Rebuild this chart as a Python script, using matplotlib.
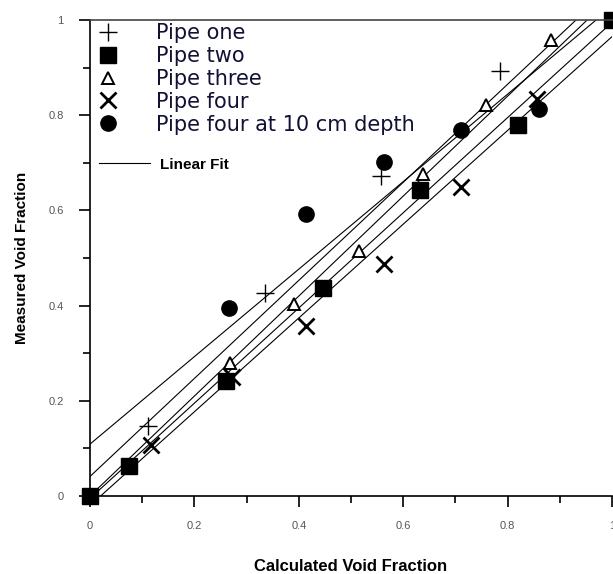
import matplotlib
matplotlib.use("Agg")
from matplotlib import pyplot as plt
from matplotlib.lines import Line2D
from matplotlib.ticker import MultipleLocator
import numpy as np

plt.rcParams['font.family'] = ['Liberation Sans', 'DejaVu Sans']

# data
pipe_one_x = [0.112, 0.335, 0.558, 0.785]
pipe_one_y = [0.148, 0.426, 0.673, 0.892]

pipe_two_x = [0.0, 0.074, 0.260, 0.446, 0.633, 0.820, 1.0]
pipe_two_y = [0.0, 0.063, 0.242, 0.436, 0.642, 0.780, 1.0]

pipe_three_x = [0.268, 0.391, 0.516, 0.638, 0.759, 0.884]
pipe_three_y = [0.280, 0.403, 0.515, 0.677, 0.822, 0.957]

pipe_four_x = [0.117, 0.272, 0.413, 0.563, 0.711, 0.857]
pipe_four_y = [0.108, 0.250, 0.357, 0.487, 0.649, 0.835]

depth_x = [0.266, 0.413, 0.563, 0.711, 0.860]
depth_y = [0.394, 0.593, 0.701, 0.768, 0.812]

# linear fits (slope, intercept) as drawn
fit_slopes = [0.919, 1.03, 1.05, 1.0, 0.985]
fit_intercepts = [0.109, 0.041, 0.0, -0.005, -0.02]

fig = plt.figure(figsize=(6.13, 5.74), dpi=100)
ax = fig.add_axes([90 / 613, 78 / 574, 522 / 613, 476 / 574])

xs = np.array([0.0, 1.0])
for m, b in zip(fit_slopes, fit_intercepts):
    ax.plot(xs, m * xs + b, color="k", linewidth=0.8)

ax.plot(pipe_one_x, pipe_one_y, linestyle="none", marker="+", markersize=13,
        markeredgewidth=1.0, color="k", clip_on=False, label="Pipe one")
ax.plot(pipe_two_x, pipe_two_y, linestyle="none", marker="s", markersize=11,
        color="k", clip_on=False, label="Pipe two")
ax.plot(pipe_three_x, pipe_three_y, linestyle="none", marker="^", markersize=9,
        markerfacecolor="white", markeredgecolor="k", markeredgewidth=1.4,
        clip_on=False, label="Pipe three")
ax.plot(pipe_four_x, pipe_four_y, linestyle="none", marker="x", markersize=11,
        markeredgewidth=2.0, color="k", clip_on=False, label="Pipe four")
ax.plot(depth_x, depth_y, linestyle="none", marker="o", markersize=11,
        color="k", clip_on=False, label="Pipe four at 10 cm depth")

ax.set_xlim(0, 1)
ax.set_ylim(0, 1)

ax.spines["right"].set_visible(False)
ax.spines["top"].set_color("#444444")
ax.spines["top"].set_linewidth(1.2)
for s in ["left", "bottom"]:
    ax.spines[s].set_linewidth(1.2)

ax.xaxis.set_major_locator(MultipleLocator(0.2))
ax.xaxis.set_minor_locator(MultipleLocator(0.1))
ax.yaxis.set_major_locator(MultipleLocator(0.2))
ax.yaxis.set_minor_locator(MultipleLocator(0.1))


def fmt(v, p):
    v = round(v, 2)
    if v == 0:
        return "0"
    if v == 1:
        return "1"
    return f"{v:.1f}"


ax.xaxis.set_major_formatter(plt.FuncFormatter(fmt))
ax.yaxis.set_major_formatter(plt.FuncFormatter(fmt))
ax.tick_params(which="major", direction="out", length=8, width=1.2,
               labelsize=8, labelcolor="#555555")
ax.tick_params(which="minor", direction="out", length=5, width=1.2)
ax.tick_params(axis="x", pad=10)
ax.tick_params(axis="y", pad=11)

ax.set_xlabel("Calculated Void Fraction", fontsize=12, fontweight="bold", labelpad=20)
ax.set_ylabel("Measured Void Fraction", fontsize=11, fontweight="bold", labelpad=14)

leg = ax.legend(loc="upper left", bbox_to_anchor=(-0.022, 1.02), frameon=False,
                prop={"family": "DejaVu Sans", "size": 15},
                handlelength=1.6, handletextpad=1.5,
                labelspacing=0.14, borderaxespad=0.2)
for t in leg.get_texts():
    t.set_color("#111133")
ax.add_artist(leg)

fit_handle = Line2D([], [], color="k", linewidth=0.8)
ax.legend([fit_handle], ["Linear Fit"], loc="upper left",
          bbox_to_anchor=(-0.01, 0.74), frameon=False,
          prop={"size": 11, "weight": "bold"}, handlelength=3.4,
          handletextpad=0.6)

fig.savefig("out.png", dpi=100)
